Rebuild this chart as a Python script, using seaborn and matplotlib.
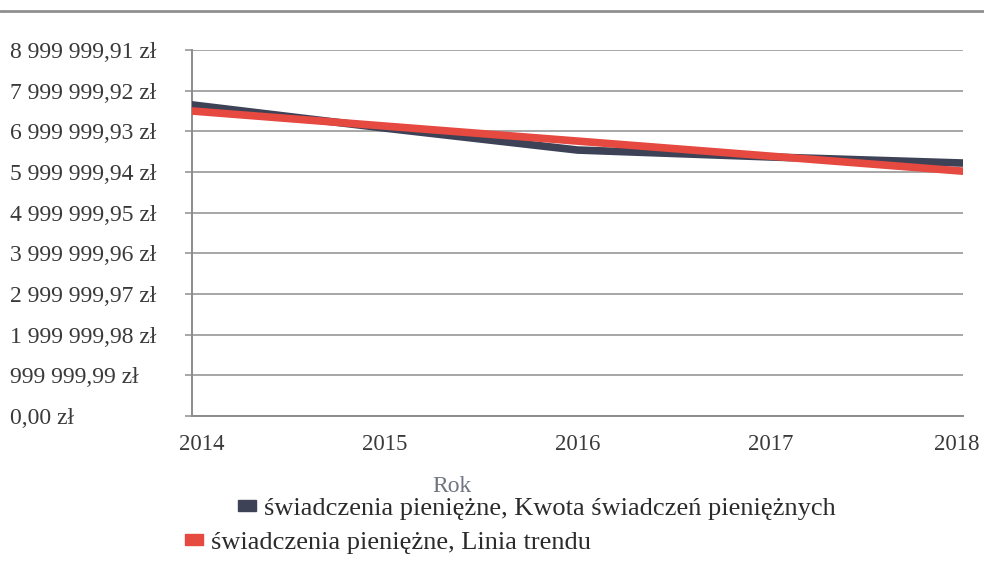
import pandas as pd
import matplotlib.pyplot as plt
import matplotlib.patches as mpatches
import matplotlib.transforms as mtransforms
from matplotlib.lines import Line2D
from matplotlib.ticker import FuncFormatter
import seaborn as sns

# Values
years = [2014, 2015, 2016, 2017, 2018]
kwota = [7650000, 7080000, 6540000, 6370000, 6220000]
trend = [7500000, 7130000, 6760000, 6390000, 6020000]
y_ticks = [0.00, 999999.99, 1999999.98, 2999999.97, 3999999.96,
           4999999.95, 5999999.94, 6999999.93, 7999999.92, 8999999.91]

label_kwota = 'świadczenia pieniężne, Kwota świadczeń pieniężnych'
label_trend = 'świadczenia pieniężne, Linia trendu'

dark = '#3d4257'
red = '#e5493f'

df = pd.DataFrame({'Rok': years, 'kwota': kwota, 'trend': trend})

sns.set_theme(style='white')
plt.rcParams['font.family'] = ['Liberation Serif', 'DejaVu Serif']

fig = plt.figure(figsize=(9.84, 5.78), dpi=100)
ax = fig.add_axes([192 / 984, 1 - 416 / 578, 771 / 984, 366 / 578])

sns.lineplot(data=df, x='Rok', y='kwota', ax=ax, color=dark, linewidth=5.5, zorder=3)
sns.lineplot(data=df, x='Rok', y='trend', ax=ax, color=red, linewidth=5.5, zorder=4)

ax.set_xlim(2014, 2018)
ax.set_ylim(0, y_ticks[-1])
ax.set_xticks(years)
ax.set_yticks(y_ticks)


def pln(v, pos):
    return f'{v:,.2f}'.replace(',', ' ').replace('.', ',') + ' zł'


ax.yaxis.set_major_formatter(FuncFormatter(pln))
ax.grid(axis='y', color='#a6a6a6', linewidth=1.4)
ax.grid(axis='x', visible=False)

for side in ['top', 'right']:
    ax.spines[side].set_visible(False)
for side in ['left', 'bottom']:
    ax.spines[side].set_color('#8c8c8c')
    ax.spines[side].set_linewidth(1.4)

ax.tick_params(axis='y', length=5, width=1.4, color='#a6a6a6', left=True,
               pad=126, labelsize=17, labelcolor='#3a3a3a')
for lbl in ax.get_yticklabels():
    lbl.set_horizontalalignment('left')
ax.tick_params(axis='x', length=0, pad=13, labelsize=16.5, labelcolor='#3a3a3a')

# edge year labels are nudged inwards like in the original
xlabels = ax.get_xticklabels()
xlabels[0].set_transform(xlabels[0].get_transform() +
                         mtransforms.ScaledTranslation(10 / 100, 0, fig.dpi_scale_trans))
xlabels[-1].set_transform(xlabels[-1].get_transform() +
                          mtransforms.ScaledTranslation(-6 / 100, 0, fig.dpi_scale_trans))

ax.set_ylabel('')
ax.set_xlabel('Rok', fontsize=17, color='#6f7580', va='center')
ax.xaxis.set_label_coords((452 - 192) / 771, (416 - 486) / 366)

# top rule of the page
fig.add_artist(Line2D([0, 1], [1 - 11 / 578, 1 - 11 / 578], color='#8f8f8f', linewidth=2))

h1 = mpatches.Patch(color=dark, label=label_kwota)
h2 = mpatches.Patch(color=red, label=label_trend)
leg1 = fig.legend(handles=[h1], loc='center left', bbox_to_anchor=(238 / 984, 1 - 509 / 578),
                  frameon=False, fontsize=19, handlelength=0.7, handleheight=0.28,
                  handletextpad=0.3, borderpad=0, borderaxespad=0)
leg2 = fig.legend(handles=[h2], loc='center left', bbox_to_anchor=(185 / 984, 1 - 543 / 578),
                  frameon=False, fontsize=19, handlelength=0.7, handleheight=0.28,
                  handletextpad=0.3, borderpad=0, borderaxespad=0)
for leg in (leg1, leg2):
    for t in leg.get_texts():
        t.set_color('#2b2b2b')

fig.savefig('out.png', dpi=100)
